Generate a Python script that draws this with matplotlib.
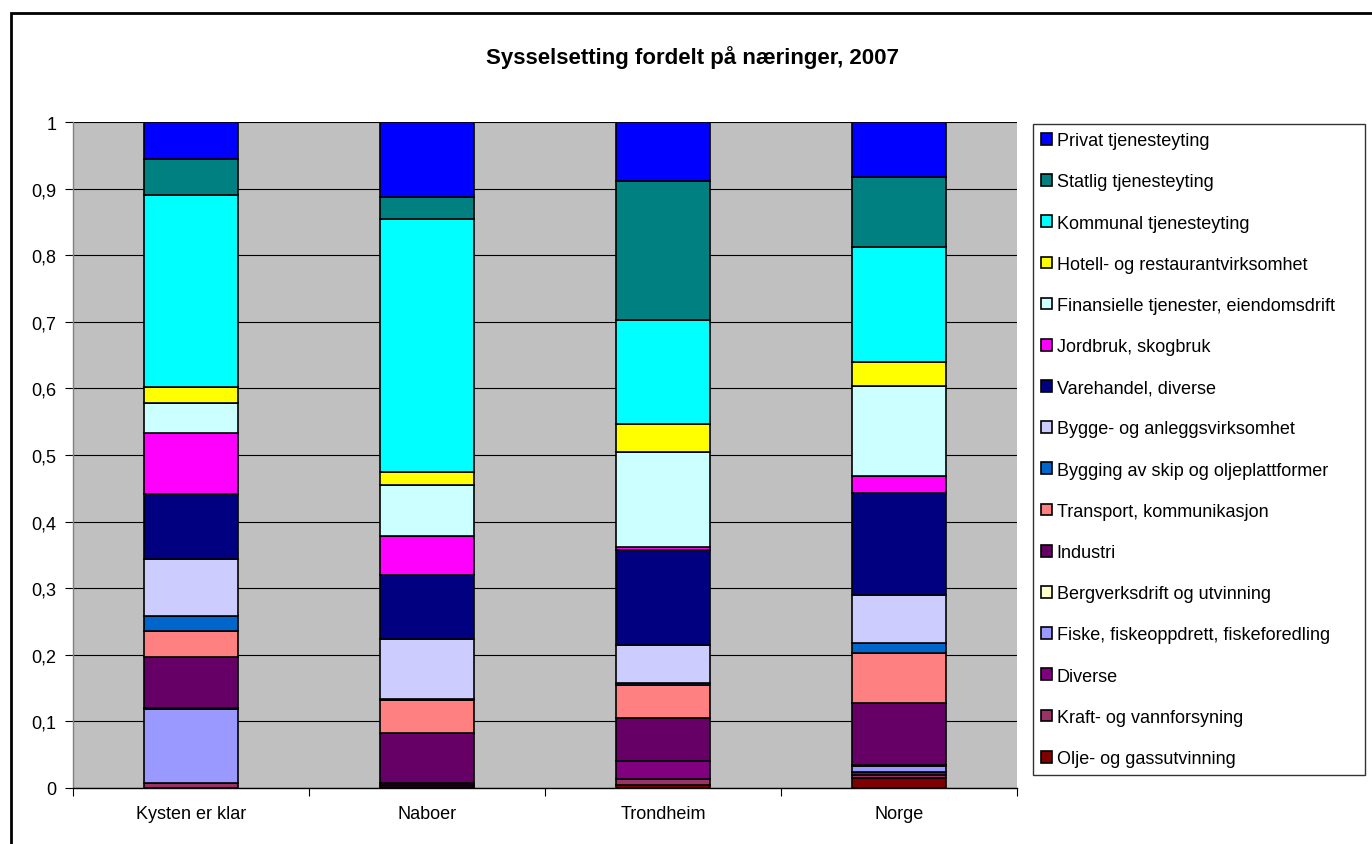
import numpy as np
import matplotlib.pyplot as plt
from matplotlib.patches import Rectangle, Patch
from matplotlib.ticker import FixedLocator, FuncFormatter

plt.rcParams['font.family'] = ['Liberation Sans', 'DejaVu Sans']

regions = ['Kysten er klar', 'Naboer', 'Trondheim', 'Norge']

# bottom-to-top stacking order
sectors = ['Olje- og gassutvinning', 'Kraft- og vannforsyning', 'Diverse',
           'Fiske, fiskeoppdrett, fiskeforedling', 'Bergverksdrift og utvinning',
           'Industri', 'Transport, kommunikasjon', 'Bygging av skip og oljeplattformer',
           'Bygge- og anleggsvirksomhet', 'Varehandel, diverse', 'Jordbruk, skogbruk',
           'Finansielle tjenester, eiendomsdrift', 'Hotell- og restaurantvirksomhet',
           'Kommunal tjenesteyting', 'Statlig tjenesteyting', 'Privat tjenesteyting']

colors = ['#800000', '#993366', '#800080', '#9999FF', '#FFFFCC', '#660066',
          '#FF8080', '#0066CC', '#CCCCFF', '#000080', '#FF00FF', '#CCFFFF',
          '#FFFF00', '#00FFFF', '#008080', '#0000FF']

# cumulative tops, per region
tops_kysten = [0.000, 0.007, 0.007, 0.118, 0.120, 0.197, 0.236, 0.258,
               0.344, 0.442, 0.533, 0.578, 0.602, 0.890, 0.944, 1.000]
tops_naboer = [0.001, 0.005, 0.007, 0.008, 0.008, 0.082, 0.132, 0.133,
               0.224, 0.320, 0.378, 0.455, 0.474, 0.854, 0.888, 1.000]
tops_trondheim = [0.005, 0.0135, 0.041, 0.041, 0.041, 0.105, 0.155, 0.157,
                  0.215, 0.358, 0.362, 0.505, 0.547, 0.703, 0.911, 1.000]
tops_norge = [0.0145, 0.020, 0.024, 0.0335, 0.035, 0.1276, 0.2027, 0.2177,
              0.290, 0.443, 0.469, 0.603, 0.640, 0.813, 0.917, 1.000]

tops = np.array([tops_kysten, tops_naboer, tops_trondheim, tops_norge])
bottoms = np.hstack([np.zeros((4, 1)), tops[:, :-1]])
heights = tops - bottoms

fig = plt.figure(figsize=(13.72, 8.45), dpi=100)
ax = fig.add_axes([73/1372, 1 - 789/845, (1017-73)/1372, (789-123)/845])
ax.set_facecolor('#C0C0C0')

x = np.arange(len(regions))
for i, name in enumerate(sectors):
    ax.bar(x, heights[:, i], bottom=bottoms[:, i], width=0.4, color=colors[i],
           edgecolor='black', linewidth=1.2, zorder=3)

ax.set_xlim(-0.5, 3.5)
ax.set_ylim(0, 1)
ax.set_yticks(np.arange(0, 1.01, 0.1))
ax.yaxis.set_major_formatter(FuncFormatter(
    lambda v, p: '0' if abs(v) < 1e-9 else ('1' if abs(v-1) < 1e-9 else f'{v:.1f}'.replace('.', ','))))
ax.grid(axis='y', color='black', linewidth=0.8, zorder=1)
ax.set_xticks(x)
ax.set_xticklabels(regions)
ax.xaxis.set_minor_locator(FixedLocator([-0.5, 0.5, 1.5, 2.5, 3.5]))
ax.tick_params(axis='x', which='major', length=0, pad=12, labelsize=13)
ax.tick_params(axis='x', which='minor', length=6, width=0.8, direction='out')
ax.tick_params(axis='y', length=6, width=0.8, direction='out', labelsize=13, pad=6)
for s in ['top', 'right']:
    ax.spines[s].set_visible(False)
ax.spines['left'].set_color('#808080')
ax.spines['left'].set_linewidth(1.0)
ax.spines['bottom'].set_linewidth(1.0)

fig.text(0.505, 1 - 58/845, 'Sysselsetting fordelt på næringer, 2007',
         ha='center', va='center', fontsize=16, fontweight='bold')

handles = [Patch(facecolor=c, edgecolor='black', linewidth=1.2) for c in colors]
leg = fig.legend(handles[::-1], sectors[::-1], loc='upper left',
                 bbox_to_anchor=(1033/1372, 1 - 789/845, (1365-1033)/1372, (789-125)/845),
                 mode='expand', fontsize=13, handlelength=0.62, handleheight=0.62,
                 handletextpad=0.25, labelspacing=1.34, borderpad=0.45, borderaxespad=0,
                 fancybox=False, frameon=True)
leg.get_frame().set_edgecolor('black')
leg.get_frame().set_linewidth(1.0)

# outer chart border
fig.patches.append(Rectangle((11/1372, -0.01), 1.0, 1 - 14/845 + 0.01,
                             transform=fig.transFigure, fill=False,
                             edgecolor='black', linewidth=2))

fig.savefig('out.png', dpi=100)
